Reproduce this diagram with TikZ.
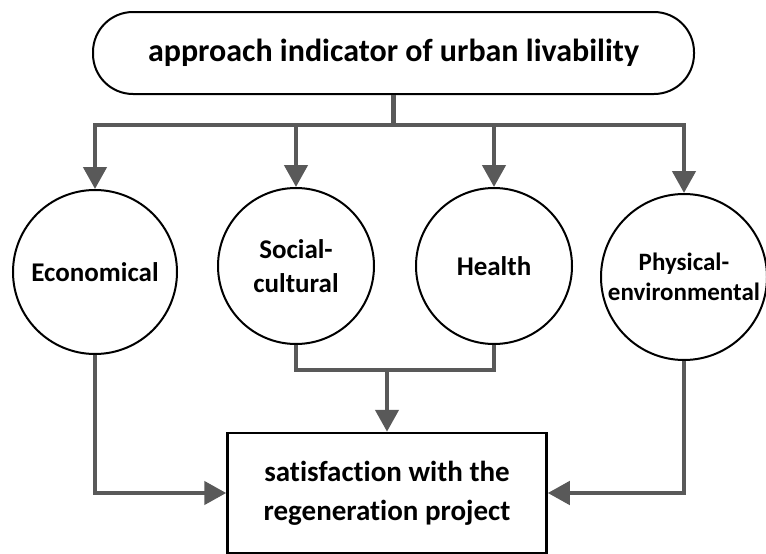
\documentclass[tikz,border=0pt]{standalone}
\usepackage{fontspec}
\setmainfont{Carlito}[Ligatures=NoCommon]
\usetikzlibrary{arrows.meta,positioning}

\definecolor{linegray}{HTML}{595959}

\begin{document}
\begin{tikzpicture}[x=1pt,y=-1pt,
		every node/.style={
			draw,
			line width=2pt,
			align=center,
			font=\bfseries
		},
		topic/.style={
			circle,
			minimum size=160pt,
			inner sep=0pt,
			font=\fontsize{27}{34}\selectfont\bfseries
		},
		link/.style={
			draw=linegray,
			line width=4.5pt
		},
		arrow/.style={
			link,
			-{Triangle[length=22pt,width=23pt]}
		}
		]
		\useasboundingbox (0,0) rectangle (766,554);
		
		\node[rounded corners=40pt,minimum width=601pt,minimum height=82pt,
			font=\fontsize{32}{38}\selectfont\bfseries] (approach) at (393.5,53)
			{approach indicator of urban livability};
		
		\node[topic,minimum size=164pt] (econ) at (95,272) {Economical};
		\node[topic,minimum size=156pt] (social) at (296,266) {Social-\\cultural};
		\node[topic,minimum size=156pt] (health) at (494,266) {Health};
		\node[topic,minimum size=166pt,font=\fontsize{25}{30}\selectfont\bfseries]
			(physical) at (684,277) {Physical-\\environmental};
		
		\node[rectangle,line width=2.5pt,minimum width=319pt,minimum height=120pt,
			font=\fontsize{29}{39}\selectfont\bfseries] (result) at (387,493)
			{satisfaction with the\\regeneration project};
		
		\coordinate (split) at (393.5,125);
		\coordinate (join) at (387,370);
		
		\draw[link] (approach.south) -- (split);
		\draw[arrow] (split) -| (econ.north);
		\draw[arrow] (split) -| (social.north);
		\draw[arrow] (split) -| (health.north);
		\draw[arrow] (split) -| (physical.north);
		
		\draw[link] (social.south) |- (join) -| (health.south);
		\draw[arrow] (join) -- (result.north);
		\draw[arrow] (econ.south) |- (result.west);
		\draw[arrow] (physical.south) |- (result.east);
		
	\end{tikzpicture}
\end{document}
